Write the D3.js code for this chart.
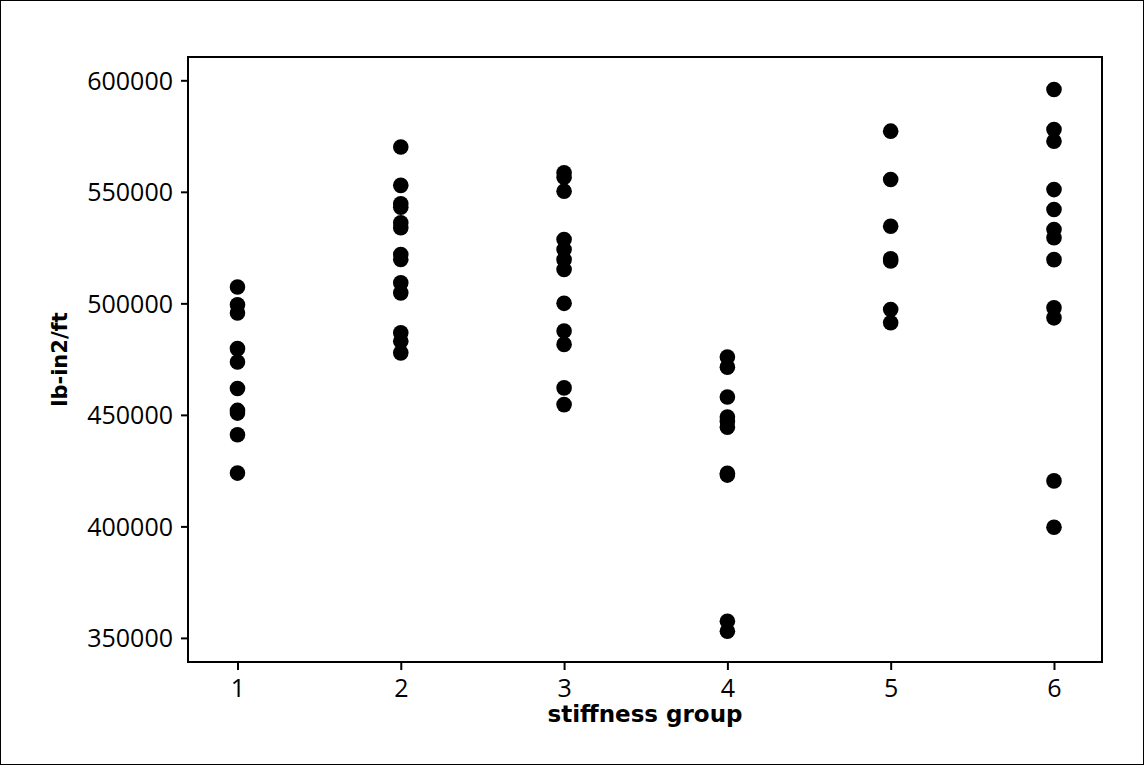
<!DOCTYPE html>
<html>
<head>
<meta charset="utf-8">
<script src="https://cdn.jsdelivr.net/npm/d3@7"></script>
<style>
  html, body { margin: 0; padding: 0; background: #fff; }
  svg { display: block; }
  text { font-family: "Open Sans", "Liberation Sans", sans-serif; fill: #000; }
</style>
</head>
<body>
<svg id="chart" width="1144" height="765"></svg>
<script>
// Flexural stiffness measurements by stiffness group
const groups = [1, 2, 3, 4, 5, 6];
const group1 = [507300, 499400, 495700, 479700, 473700, 461800, 452000, 450800, 441100, 423900];
const group2 = [570100, 552900, 544600, 543100, 536100, 533900, 521900, 519700, 509200, 504700, 486800, 483000, 477800];
const group3 = [558500, 556500, 550300, 528600, 524100, 519600, 515200, 500000, 487600, 481600, 462100, 454600];
const group4 = [475900, 471400, 458000, 449000, 447000, 444500, 423800, 423000, 357500, 353000];
const group5 = [577200, 555500, 534600, 520000, 519000, 497200, 491300];
const group6 = [595900, 577900, 572700, 551000, 542100, 533100, 529400, 519600, 498000, 493500, 420400, 399600];
const yTicks = [350000, 400000, 450000, 500000, 550000, 600000];
const xLabel = "stiffness group";
const yLabel = "lb-in2/ft";

const seriesByGroup = [group1, group2, group3, group4, group5, group6];
const points = [];
groups.forEach((g, i) => seriesByGroup[i].forEach(v => points.push({ g, v })));

const W = 1144, H = 765;
const margin = { left: 188, top: 57, right: 42, bottom: 103 };
const svg = d3.select("#chart");

// outer border around the whole graph
svg.append("rect")
  .attr("x", 0.5).attr("y", 0.5)
  .attr("width", W - 1).attr("height", H - 1)
  .attr("fill", "none").attr("stroke", "#000").attr("stroke-width", 1);

const x = d3.scaleLinear().domain([0.697, 6.294]).range([margin.left, W - margin.right]);
const y = d3.scaleLinear().domain([339200, 610450]).range([H - margin.bottom, margin.top]);

const g = svg.append("g");

// frame of the data region
g.append("rect")
  .attr("x", margin.left).attr("y", margin.top)
  .attr("width", W - margin.right - margin.left)
  .attr("height", H - margin.bottom - margin.top)
  .attr("fill", "none").attr("stroke", "#000").attr("stroke-width", 2);

const xAxis = g.append("g")
  .attr("transform", `translate(0,${H - margin.bottom})`)
  .call(d3.axisBottom(x).tickValues(groups).tickFormat(d3.format("d")).tickSize(8).tickPadding(9));
const yAxis = g.append("g")
  .attr("transform", `translate(${margin.left},0)`)
  .call(d3.axisLeft(y).tickValues(yTicks).tickFormat(d3.format("d")).tickSize(7).tickPadding(8));

[xAxis, yAxis].forEach(a => {
  a.select(".domain").remove();
  a.selectAll(".tick line").attr("stroke", "#000").attr("stroke-width", 2);
  a.selectAll(".tick text")
    .style("font-family", "'Open Sans', sans-serif")
    .style("font-size", "25px").attr("fill", "#000");
});
yAxis.selectAll(".tick text").attr("dy", "0.36em");

// data points
g.append("g").selectAll("circle")
  .data(points)
  .join("circle")
  .attr("cx", d => x(d.g))
  .attr("cy", d => y(d.v))
  .attr("r", 7.8)
  .attr("fill", "#000");

// axis titles
svg.append("text")
  .attr("x", (margin.left + W - margin.right) / 2)
  .attr("y", 722)
  .attr("text-anchor", "middle")
  .style("font-family", "'DejaVu Sans', sans-serif")
  .style("font-size", "23px").style("font-weight", "bold")
  .text(xLabel);

svg.append("text")
  .attr("transform", `translate(67,${(margin.top + H - margin.bottom) / 2}) rotate(-90)`)
  .attr("text-anchor", "middle")
  .style("font-family", "'DejaVu Sans', sans-serif")
  .style("font-size", "21px").style("font-weight", "bold")
  .text(yLabel);
</script>
</body>
</html>
